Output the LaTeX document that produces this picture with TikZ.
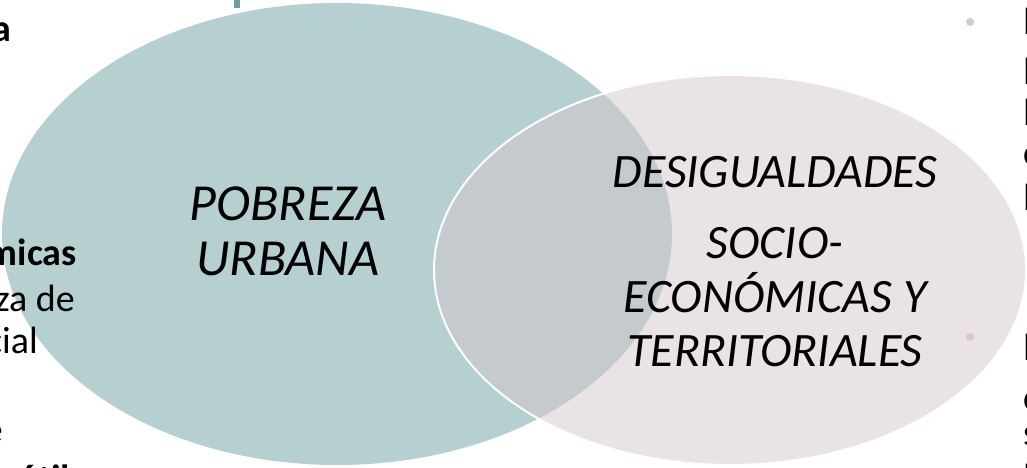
\documentclass[tikz,border=0pt]{standalone}
\usepackage{fontspec}
\setmainfont{Carlito}

\definecolor{tealfill}{RGB}{182,207,208}
\definecolor{rosefill}{RGB}{211,199,203}
\definecolor{dotgray}{RGB}{214,200,208}
\definecolor{tealbar}{RGB}{106,160,164}

\tikzset{
  bigtxt/.style={font=\fontsize{52}{55}\selectfont\itshape, align=center, inner sep=0pt},
  sidetxt/.style={font=\fontsize{38}{44}\selectfont, inner sep=0pt},
  sidebold/.style={sidetxt, font=\fontsize{38}{44}\selectfont\bfseries},
}

\begin{document}
\begin{tikzpicture}[x=1pt,y=-1pt]

\useasboundingbox (0,0) rectangle (1027,468);
\clip (0,0) rectangle (1027,468);

\coordinate (P) at (337,234);
\coordinate (D) at (730,270);

\fill[tealbar] (234,0) rectangle (240,8);
\fill[tealfill] (P) ellipse [x radius=335, y radius=231];
\fill[rosefill,fill opacity=.5] (D) ellipse [x radius=296, y radius=195];
\draw[white,line width=2pt] (D) ellipse [x radius=296, y radius=195];

\fill[dotgray] (970,22) circle (4);
\fill[dotgray] (970,337) circle (4);

\node[bigtxt] (pobreza) at (288,231) {POBREZA\\URBANA};
\node[bigtxt, font=\fontsize{48}{54}\selectfont\itshape] (desig) at (775,262)
  {DESIGUALDADES\\[17pt]SOCIO-\\ECON\'OMICAS Y\\TERRITORIALES};

% cut-off text on the left
\node[sidebold, anchor=base east] (la) at (11,42) {a};
\node[sidebold, anchor=base east] (lmicas) at (77,265) {micas};
\node[sidetxt, anchor=base east] (lzade) at (75,311) {za de};
\node[sidetxt, anchor=base east] (lcial) at (38,353) {cial};
\node[sidetxt, anchor=base east] (le) at (3,442) {e};
\node[sidebold, anchor=base east] (lutil) at (70,491) {útil};

% cut-off text on the right
\foreach \y/\t in {35/l,85/l,125/l,165/c,210/l,360/l,410/c,445/s,490/l}
  \node[sidetxt, anchor=base west] (r\y) at (1023,\y) {\t};

\end{tikzpicture}
\end{document}
